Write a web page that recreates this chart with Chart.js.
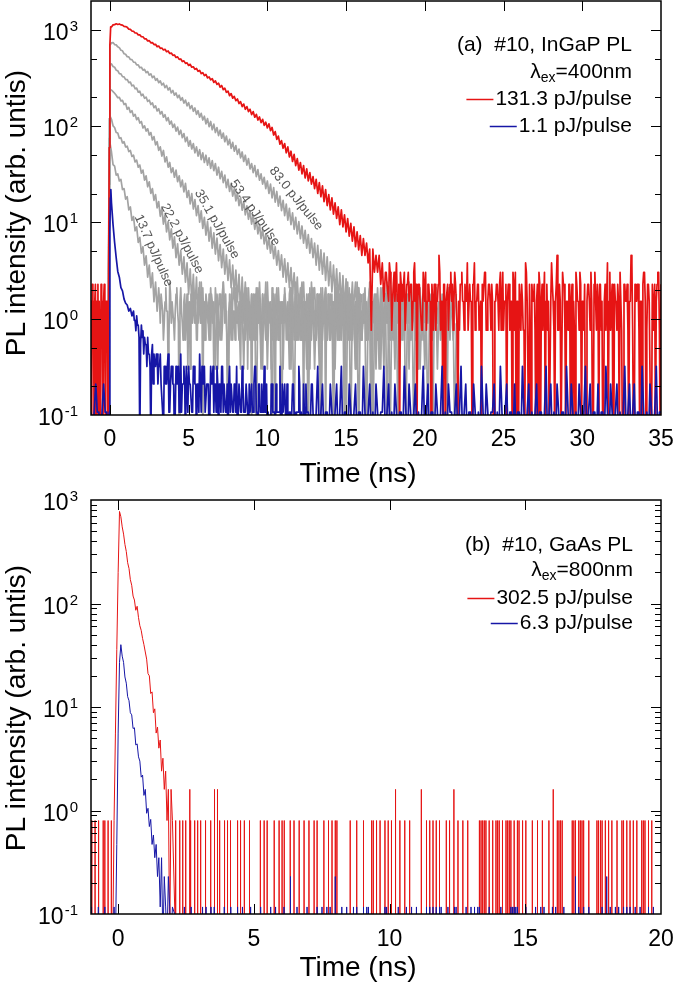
<!DOCTYPE html>
<html><head><meta charset="utf-8">
<script src="https://cdn.jsdelivr.net/npm/chart.js"></script>
<style>
html,body{margin:0;padding:0;background:#fff;}
body{width:675px;height:987px;position:relative;overflow:hidden;}
#wa{position:absolute;left:0;top:0;width:675px;height:490px;}
#wb{position:absolute;left:0;top:490px;width:675px;height:497px;}
canvas{display:block;}
</style></head><body>
<div id="wa"><canvas id="ca" width="675" height="490"></canvas></div>
<div id="wb"><canvas id="cb" width="675" height="497"></canvas></div>
<script>
// ===================== DATA =====================
// Panel (a) common time bins (ns)
const tA = [
0.1,0.2,0.3,0.4,0.5,0.6,0.7,0.8,0.9,1.0,
1.1,1.2,1.3,1.4,1.5,1.6,1.7,1.8,1.9,2.0,
2.1,2.2,2.3,2.4,2.5,2.6,2.7,2.8,2.9,3.0,
3.1,3.2,3.3,3.4,3.5,3.6,3.7,3.8,3.9,4.0,
4.1,4.2,4.3,4.4,4.5,4.6,4.7,4.8,4.9,5.0,
5.1,5.2,5.3,5.4,5.5,5.6,5.7,5.8,5.9,6.0,
6.1,6.2,6.3,6.4,6.5,6.6,6.7,6.8,6.9,7.0,
7.1,7.2,7.3,7.4,7.5,7.6,7.7,7.8,7.9,8.0,
8.1,8.2,8.3,8.4,8.5,8.6,8.7,8.8,8.9,9.0,
9.1,9.2,9.3,9.4,9.5,9.6,9.7,9.8,9.9,10.0,
10.1,10.2,10.3,10.4,10.5,10.6,10.7,10.8,10.9,11.0,
11.1,11.2,11.3,11.4,11.5,11.6,11.7,11.8,11.9,12.0,
12.1,12.2,12.3,12.4,12.5,12.6,12.7,12.8,12.9,13.0,
13.1,13.2,13.3,13.4,13.5,13.6,13.7,13.8,13.9,14.0,
14.1,14.2,14.3,14.4,14.5,14.6,14.7,14.8,14.9,15.0,
15.1,15.2,15.3,15.4,15.5,15.6,15.7,15.8,15.9,16.0,
16.1,16.2,16.3,16.4,16.5,16.6,16.7,16.8,16.9,17.0,
17.1,17.2,17.3,17.4,17.5,17.6,17.7,17.8,17.9,18.0,
18.1,18.2,18.3,18.4,18.5,18.6,18.7,18.8,18.9,19.0,
19.1,19.2,19.3,19.4,19.5,19.6,19.7,19.8,19.9,20.0,
20.1,20.2,20.3,20.4,20.5,20.6,20.7,20.8,20.9,21.0,
21.1,21.2,21.3,21.4,21.5,21.6,21.7,21.8,21.9,22.0,
22.1,22.2,22.3,22.4,22.5,22.6,22.7,22.8,22.9,23.0,
23.1,23.2,23.3,23.4,23.5,23.6,23.7,23.8,23.9,24.0,
24.1,24.2,24.3,24.4,24.5,24.6,24.7,24.8,24.9,25.0,
25.1,25.2,25.3,25.4,25.5,25.6,25.7,25.8,25.9,26.0,
26.1,26.2,26.3,26.4,26.5,26.6,26.7,26.8,26.9,27.0,
27.1,27.2,27.3,27.4,27.5,27.6,27.7,27.8,27.9,28.0,
28.1,28.2,28.3,28.4,28.5,28.6,28.7,28.8,28.9,29.0,
29.1,29.2,29.3,29.4,29.5,29.6,29.7,29.8,29.9,30.0,
30.1,30.2,30.3,30.4,30.5,30.6,30.7,30.8,30.9,31.0,
31.1,31.2,31.3,31.4,31.5,31.6,31.7,31.8,31.9,32.0,
32.1,32.2,32.3,32.4,32.5,32.6,32.7,32.8,32.9,33.0,
33.1,33.2,33.3,33.4,33.5,33.6,33.7,33.8,33.9,34.0,
34.1,34.2,34.3,34.4,34.5,34.6,34.7,34.8,34.9,35.0];

// (a) 131.3 pJ/pulse (red): before/at excitation, then on tA
const tRedPreA = [-1.2,-1.16,-1.12,-1.08,-1.04,-1.0,-0.96,-0.92,-0.88,-0.84,-0.8,-0.76,-0.72,-0.68,-0.64,-0.6,-0.56,-0.52,-0.48,-0.44,-0.4,-0.36,-0.32,-0.28,-0.24,-0.2,-0.16,-0.12,-0.08,-0.04,0,0.05];
const vRedPreA = [1.52,0.05,2.28,0.76,1.52,0.05,1.52,2.28,0.05,1.52,0.76,2.28,0.05,1.52,1.52,0.05,2.28,0.76,1.52,0.05,1.52,2.28,0.76,0.05,1.52,0.76,1.52,0.05,3.04,60,700,1080];
const vRedA = [
1075,1130,1135,1160,1140,1155,1130,1125,1090,1085,
1065,1020,1015,975,970,930,930,890,890,850,
850,810,810,770,775,735,740,705,710,670,
680,645,650,620,630,595,605,570,575,545,
550,518,525,495,500,470,478,450,455,428,
440,410,415,390,398,372,380,352,360,335,
345,318,325,303,312,285,296,272,280,255,
265,240,248,225,232,208,218,196,204,184,
192,172,180,160,170,150,160,142,150,132,
142,124,133,116,125,109,118,102,110,96,
106,90,97,81,88,73,79,65,71,59,
66,53,61,48,55,43,51,39,46,35,
42,32,39,29,36,27,33,25,30,22.5,
28,20,26,18.5,24,16.5,22,15,19.5,13.5,
18,12.2,16,11,14.5,9.5,13.5,9,12,8,
11,7.2,9.8,6.4,9,5.6,8,5.2,7.3,4.56,
6.8,4.56,6.1,3.8,5.3,0.76,5.3,3.04,4.56,3.04,
4.56,2.28,3.8,1.52,3.04,2.28,1.52,3.04,0.76,2.28,
1.52,3.8,1.52,0.05,2.28,1.52,3.04,0.76,2.28,1.52,
2.28,0.76,3.04,1.52,0.05,2.28,1.52,0.76,3.04,1.52,
0.76,2.28,1.52,0.05,1.52,2.28,0.76,1.52,4.56,0.76,
1.52,2.28,0.05,1.52,0.76,2.28,1.52,0.76,3.04,1.52,
0.05,0.76,2.28,1.52,0.76,1.52,3.8,0.76,1.52,0.05,
2.28,0.76,1.52,2.28,0.76,0.05,1.52,3.04,0.76,1.52,
2.28,0.76,1.52,0.05,1.52,2.28,0.76,3.04,1.52,0.76,
1.52,0.05,2.28,0.76,1.52,3.04,0.76,0.05,1.52,2.28,
0.76,1.52,0.76,3.8,1.52,0.05,0.76,2.28,1.52,0.76,
1.52,0.05,2.28,1.52,0.76,3.04,1.52,0.76,0.05,1.52,
2.28,0.76,1.52,4.56,0.76,1.52,0.05,2.28,0.76,1.52,
0.76,2.28,1.52,0.05,0.76,3.04,1.52,0.76,2.28,1.52,
0.76,0.05,1.52,2.28,0.76,1.52,0.05,3.04,0.76,1.52,
2.28,0.76,0.05,1.52,0.76,3.8,1.52,0.76,2.28,0.05,
1.52,0.76,1.52,3.04,0.76,0.05,2.28,1.52,0.76,1.52,
4.56,0.76,0.05,1.52,2.28,0.76,1.52,0.05,3.04,1.52,
0.76,2.28,1.52,0.05,0.76,2.28,1.52,3.04,0.76,2.28];
// (a) red background, intermediate bins
const tRedTailA2 = [
17.55,17.65,17.75,17.85,17.95,18.05,18.15,18.25,18.35,18.45,
18.55,18.65,18.75,18.85,18.95,19.05,19.15,19.25,19.35,19.45,
19.55,19.65,19.75,19.85,19.95,20.05,20.15,20.25,20.35,20.45,
20.55,20.65,20.75,20.85,20.95,21.05,21.15,21.25,21.35,21.45,
21.55,21.65,21.75,21.85,21.95,22.05,22.15,22.25,22.35,22.45,
22.55,22.65,22.75,22.85,22.95,23.05,23.15,23.25,23.35,23.45,
23.55,23.65,23.75,23.85,23.95,24.05,24.15,24.25,24.35,24.45,
24.55,24.65,24.75,24.85,24.95,25.05,25.15,25.25,25.35,25.45,
25.55,25.65,25.75,25.85,25.95,26.05,26.15,26.25,26.35,26.45,
26.55,26.65,26.75,26.85,26.95,27.05,27.15,27.25,27.35,27.45,
27.55,27.65,27.75,27.85,27.95,28.05,28.15,28.25,28.35,28.45,
28.55,28.65,28.75,28.85,28.95,29.05,29.15,29.25,29.35,29.45,
29.55,29.65,29.75,29.85,29.95,30.05,30.15,30.25,30.35,30.45,
30.55,30.65,30.75,30.85,30.95,31.05,31.15,31.25,31.35,31.45,
31.55,31.65,31.75,31.85,31.95,32.05,32.15,32.25,32.35,32.45,
32.55,32.65,32.75,32.85,32.95,33.05,33.15,33.25,33.35,33.45,
33.55,33.65,33.75,33.85,33.95,34.05,34.15,34.25,34.35,34.45,
34.55,34.65,34.75,34.85,34.95];
const vRedTailA2 = [
3.04,2.28,3.8,2.28,1.52,3.04,2.28,1.52,2.28,3.04,
1.52,2.28,0.76,2.28,3.04,1.52,2.28,1.52,3.8,2.28,
1.52,2.28,1.52,0.76,2.28,3.04,1.52,2.28,1.52,2.28,
0.76,2.28,1.52,2.28,3.04,1.52,0.05,2.28,1.52,2.28,
1.52,3.04,2.28,1.52,2.28,0.76,1.52,2.28,3.04,1.52,
2.28,1.52,0.76,2.28,1.52,2.28,3.8,1.52,2.28,0.76,
1.52,2.28,1.52,3.04,0.76,2.28,1.52,2.28,0.05,1.52,
2.28,1.52,2.28,0.76,3.04,1.52,2.28,1.52,2.28,1.52,
0.05,2.28,3.04,1.52,0.05,1.52,2.28,0.76,0.05,3.04,
1.52,2.28,0.05,1.52,2.28,0.05,2.28,3.04,0.05,2.28,
1.52,0.05,2.28,1.52,0.05,3.8,1.52,0.05,2.28,0.76,
2.28,0.05,3.04,2.28,0.05,1.52,2.28,0.05,2.28,1.52,
0.05,2.28,1.52,3.04,0.05,1.52,2.28,0.05,2.28,1.52,
3.04,0.05,2.28,1.52,2.28,0.05,2.28,1.52,0.05,2.28,
1.52,0.05,3.04,1.52,0.05,2.28,1.52,2.28,0.05,3.04,
0.05,2.28,1.52,2.28,0.05,1.52,3.8,0.05,2.28,1.52,
2.28,0.05,1.52,2.28,3.04,0.05,2.28,1.52,0.05,2.28,
1.52,0.05,2.28,3.04,0.05];

// (a) 1.1 pJ/pulse (blue)
const tBluePreA = [-1.2,-1.1,-1.0,-0.9,-0.8,-0.7,-0.6,-0.5,-0.4,-0.3,-0.2,-0.1,-0.04,0,0.03,0.06];
const vBluePreA = [0.107,0.05,0.107,0.21,0.107,0.107,0.05,0.107,0.21,0.107,0.107,0.05,0.107,8,18,22];
const vBlueA = [
16,9.5,6.2,4.3,3.1,2.7,2.1,1.95,1.6,1.45,
1.39,1.2,1.28,1.07,1.2,0.96,1.07,0.86,0.05,0.86,
0.75,0.64,0.54,0.64,0.43,0.05,0.54,0.43,0.32,0.43,
0.32,0.43,0.21,0.05,0.32,0.21,0.43,0.107,0.32,0.21,
0.05,0.32,0.21,0.107,0.43,0.21,0.32,0.05,0.21,0.32,
0.21,0.107,0.32,0.21,0.05,0.21,0.43,0.107,0.21,0.32,
0.107,0.21,0.05,0.32,0.21,0.107,0.21,0.32,0.05,0.21,
0.32,0.107,0.21,0.107,0.05,0.32,0.21,0.107,0.21,0.107,
0.05,0.21,0.107,0.32,0.107,0.107,0.21,0.05,0.107,0.21,
0.107,0.32,0.107,0.05,0.21,0.107,0.107,0.32,0.107,0.05,
0.107,0.05,0.21,0.107,0.05,0.107,0.107,0.32,0.05,0.107,
0.21,0.05,0.107,0.107,0.05,0.21,0.107,0.05,0.107,0.32,
0.05,0.107,0.21,0.05,0.107,0.107,0.05,0.21,0.107,0.05,
0.107,0.32,0.05,0.107,0.21,0.05,0.107,0.107,0.05,0.21,
0.107,0.05,0.107,0.21,0.05,0.107,0.32,0.05,0.107,0.107,
0.05,0.21,0.107,0.05,0.107,0.21,0.05,0.107,0.107,0.05,
0.32,0.107,0.05,0.107,0.21,0.05,0.107,0.05,0.21,0.107,
0.05,0.107,0.107,0.32,0.05,0.107,0.21,0.05,0.107,0.05,
0.21,0.107,0.05,0.107,0.107,0.05,0.32,0.107,0.05,0.21,
0.107,0.05,0.107,0.21,0.05,0.107,0.05,0.107,0.32,0.05,
0.107,0.21,0.05,0.107,0.107,0.05,0.21,0.107,0.05,0.107,
0.32,0.05,0.107,0.05,0.21,0.107,0.107,0.05,0.107,0.21,
0.05,0.107,0.32,0.05,0.107,0.21,0.05,0.107,0.107,0.05,
0.21,0.107,0.05,0.107,0.05,0.32,0.107,0.05,0.21,0.107,
0.05,0.107,0.107,0.21,0.05,0.107,0.05,0.32,0.107,0.05,
0.107,0.21,0.05,0.107,0.107,0.05,0.21,0.05,0.107,0.107,
0.05,0.32,0.107,0.05,0.107,0.21,0.05,0.107,0.05,0.107,
0.21,0.05,0.107,0.107,0.05,0.107,0.32,0.05,0.107,0.21,
0.05,0.107,0.05,0.21,0.107,0.05,0.107,0.107,0.05,0.32,
0.107,0.05,0.21,0.107,0.05,0.107,0.05,0.21,0.107,0.05,
0.107,0.32,0.05,0.107,0.21,0.05,0.107,0.107,0.05,0.21,
0.05,0.107,0.107,0.05,0.32,0.107,0.05,0.21,0.107,0.05,
0.107,0.21,0.05,0.107,0.05,0.107,0.32,0.05,0.107,0.21,
0.05,0.107,0.21,0.05,0.107,0.107,0.05,0.32,0.107,0.05,
0.107,0.05,0.21,0.107,0.05,0.107,0.32,0.05,0.107,0.107];
// (a) blue background, intermediate bins
const tBlueA2 = [
1.55,1.65,1.75,1.85,1.95,2.05,2.15,2.25,2.35,2.45,
2.55,2.65,2.75,2.85,2.95,3.05,3.15,3.25,3.35,3.45,
3.55,3.65,3.75,3.85,3.95,4.05,4.15,4.25,4.35,4.45,
4.55,4.65,4.75,4.85,4.95,5.05,5.15,5.25,5.35,5.45,
5.55,5.65,5.75,5.85,5.95,6.05,6.15,6.25,6.35,6.45,
6.55,6.65,6.75,6.85,6.95,7.05,7.15,7.25,7.35,7.45,
7.55,7.65,7.75,7.85,7.95,8.05,8.15,8.25,8.35,8.45,
8.55,8.65,8.75,8.85,8.95,9.05,9.15,9.25,9.35,9.45,
9.55,9.65,9.75,9.85,9.95,10.05,10.15,10.25,10.35,10.45,
10.55,10.65,10.75,10.85,10.95,11.05,11.15,11.25,11.35,11.45,
11.55,11.65,11.75,11.85,11.95,12.05,12.15,12.25,12.35,12.45,
12.55,12.65,12.75,12.85,12.95];
const vBlueA2 = [
0.96,0.75,0.86,0.64,0.54,0.64,0.43,0.54,0.32,0.43,
0.32,0.43,0.21,0.32,0.43,0.21,0.32,0.21,0.107,0.32,
0.21,0.32,0.107,0.21,0.32,0.21,0.107,0.21,0.32,0.21,
0.107,0.21,0.21,0.32,0.107,0.21,0.21,0.107,0.32,0.21,
0.21,0.107,0.21,0.32,0.21,0.107,0.21,0.21,0.107,0.21,
0.32,0.21,0.107,0.21,0.21,0.107,0.32,0.21,0.107,0.21,
0.21,0.107,0.21,0.107,0.21,0.32,0.107,0.21,0.107,0.21,
0.107,0.21,0.107,0.21,0.107,0.107,0.21,0.32,0.107,0.21,
0.107,0.21,0.107,0.107,0.21,0.107,0.05,0.21,0.107,0.107,
0.21,0.107,0.107,0.05,0.21,0.107,0.107,0.21,0.05,0.107,
0.107,0.21,0.05,0.107,0.107,0.21,0.107,0.05,0.107,0.21,
0.107,0.05,0.107,0.21,0.107];

// (a) intermediate excitations (gray); rising edge then on tA
const tGrayPreA = [-0.1,-0.04,0];
const vG83Pre = [1.2,120,690];
const vG53Pre = [0.9,75,430];
const vG35Pre = [0.6,45,240];
const vG22Pre = [0.9,25,128];
const vG13Pre = [0.6,14,68];
const vG83 = [
735,740,705,700,668,655,615,608,566,560,
528,525,494,492,463,462,434,434,405,410,
382,390,360,370,340,350,320,332,300,312,
283,296,268,280,252,265,238,251,222,235,
210,222,198,210,186,198,174,187,163,176,
152,164,143,155,133,145,124,136,116,127,
106,120,99,112,92,105,86,97,80,91,
75,85,69,79,64,73,59,68,55,63,
51,58,47,54,43,50,39.5,46,36,41,
33,39,30,35.5,27.5,32,25,29.5,22.5,27,
20,25,18,23,16.3,21,14.8,18.8,13.3,17,
11.8,15.5,10.6,14,9.5,12.6,8.5,11.3,7.6,10.2,
6.8,9.2,6.1,8.3,5.4,7.5,4.8,6.8,4.3,6.1,
3.6,5.8,3.2,5.2,2.9,4.8,2.5,4.4,2.2,3.9,
1.9,3.6,1.8,3.3,1.5,3.0,1.4,2.8,1.2,2.6,
0.9,2.1,0.6,1.8,1.2,0.3,2.4,0.9,1.5,0.6,
1.8,0.9,0.05,1.5,2.1,0.6,1.2,1.8,0.3,1.5,
0.9,2.1,1.2,0.6,1.8,0.05,1.2,2.4,0.6,1.5,
0.3,1.8,0.9,1.5,0.6,2.1,1.2,0.05,1.8,0.9,
1.5,0.6,2.4,0.9,1.2,0.3,1.8,1.2,0.6,2.1,
0.9,0.05,1.5,1.8,0.6,1.2,2.1,0.3,1.5,0.9,
1.8,0.6,1.2,0.05,2.1,0.9,1.5,0.6,1.2,1.8];
const vG53 = [
445,418,410,382,377,352,350,327,326,305,
306,284,287,263,267,245,249,226,231,208,
215,195,201,181,187,168,175,156,163,144,
152,134,142,124,132,114,123,105,113,97,
105,89,98,82,91,76,84,69,77,62,
71,58,66,53,61,49,57,45,53,42,
50,39.5,47,36.5,44,34.5,41,31,37.5,28.5,
34,26,31,23,28,21,25.5,18.8,22.5,16.8,
20.5,15,18.3,13.4,16.6,12,14.9,10.8,13.2,9.6,
12,8.5,10.8,7.6,9.6,6.8,8.6,6,7.6,5.3,
7,4.8,6.3,4.2,5.6,3.6,5.1,3.2,4.6,2.7,
4.2,2.4,3.8,2.1,3.4,1.8,3.0,1.5,2.7,1.2,
2.1,0.9,1.5,0.6,1.8,1.2,0.3,2.4,0.9,1.2,
0.6,1.8,1.5,0.05,2.1,0.9,1.2,0.6,1.8,0.9,
1.5,0.3,2.1,1.2,0.6,1.8,0.9,1.5,0.05,1.2,
2.4,0.6,1.2,1.8,0.9,0.3,1.5,2.1,0.6,1.2,
0.9,1.8,0.6,1.2,2.1,0.05,1.5,0.9,1.8,0.6,
1.2,0.3,1.8,0.9,1.5,2.4,0.6,1.2,0.9,1.8,
0.6,1.5,0.05,2.1,1.2,0.6,1.8,0.9,1.5,0.3,
1.8,0.9,1.2,0.6,2.1,1.5,0.3,1.2,1.8,0.9];
const vG35 = [
238,229,220,210,198,199,183,186,168,172,
150,157,139,145,127,133,117,123,108,112,
96,101,89,94,81,86,72,78,64,69,
56,61,49,56,42.5,48,37.5,42,33,37,
29.5,35,26.5,30.5,23.5,27.5,20.8,25.5,18.2,21.5,
15.6,20,13.8,17.3,11.8,15,10.1,13.2,8.7,11.3,
7.4,10.2,6.4,8.9,5.4,7.8,4.7,6.9,4.0,5.9,
3.4,5.3,2.9,4.6,2.5,4.1,2.1,3.6,1.8,3.2,
1.5,2.9,1.2,2.7,1.2,2.4,0.9,2.1,0.9,1.8,
1.2,0.6,2.1,0.9,1.5,0.3,1.8,1.2,0.6,2.4,
0.9,1.5,0.05,1.8,1.2,0.6,2.1,0.9,1.5,0.3,
1.8,1.2,0.6,1.5,2.1,0.9,0.05,1.8,1.2,0.6,
1.5,2.4,0.9,1.2,0.3,1.8,0.6,1.5,2.1,0.9,
0.6,1.2,1.8,0.05,1.5,0.9,2.1,0.6,1.2,1.8,
0.9,1.5,0.3,2.1,1.2,0.6,1.8,0.9,1.5,0.05,
1.8,0.6,1.2,2.4,0.9,1.5,0.3,1.2,1.8,0.6,
1.2,2.1,0.6,0.9,1.8,0.05,1.5,1.2,0.6,2.1,
0.9,1.5,1.2,0.3,1.8,0.9,2.1,0.6,1.2,1.5];
const vG22 = [
118,101,97,86,85,75,76,67,69,61,
62,54.5,56,48.5,50,42.5,44.5,37.5,39.5,32.5,
35,27.5,30.5,23.5,26.5,20,22.5,17,19.5,14.2,
16.5,11.6,14,9.6,12,8,10.2,6.6,8.6,5.4,
7.1,4.3,6,3.6,5.1,2.9,4.4,2.4,3.8,1.8,
3.3,1.5,2.9,1.2,2.7,0.9,2.4,0.9,2.1,0.6,
1.8,1.2,0.6,2.1,0.9,1.5,0.3,1.8,1.2,0.6,
1.5,2.4,0.9,1.2,0.05,1.8,0.6,1.5,2.1,0.9,
1.2,0.6,1.8,1.5,0.3,2.1,0.9,1.2,0.6,1.8,
0.9,1.5,0.05,2.1,1.2,0.6,1.8,0.9,2.4,0.3,
1.5,1.2,0.6,1.8,0.9,2.1,0.6,1.5,0.05,1.2,
1.8,0.9,1.5,0.3,1.2,2.1,0.6,1.8,0.9,1.2,
0.6,1.5,2.4,0.9,1.2,0.05,1.8,0.6,1.5,2.1,
0.9,1.2,0.3,1.8,0.6,1.5,2.1,0.9,1.2,0.6,
1.8,0.05,1.5,0.9,2.1,1.2,0.6,1.8,0.3,1.5,
1.2,0.9,1.8,0.6,1.5,2.4,0.9,0.05,1.2,1.8];
const vG13 = [
54,40,38.5,31,32,27,28,22,22.5,17.5,
18.5,13.5,14.5,10.5,11.5,8.2,9,6.2,7,4.8,
5.6,3.6,4.5,2.7,3.6,2.1,3,1.5,2.4,1.2,
2.1,0.9,1.8,0.6,1.5,1.2,0.3,2.4,0.9,1.5,
0.6,1.8,1.2,0.05,2.1,0.9,1.5,0.6,1.8,1.2,
0.3,1.5,2.1,0.9,0.6,1.8,1.2,2.4,0.05,1.5,
0.9,1.2,1.8,0.6,1.5,0.3,2.1,0.9,1.2,1.8,
0.6,2.4,1.2,0.9,0.05,1.5,1.8,0.6,1.2,2.1,
0.9,1.5,0.3,1.8,1.2,0.6,2.1,1.5,0.9,0.05,
1.8,1.2,0.6,1.5,2.4,0.9,0.3,1.2,1.8,0.6,
1.5,0.9,2.1,1.2,0.05,1.8,0.6,1.5,0.9,1.2,
2.1,0.6,1.2,1.8,0.3,1.5,0.9,2.4,0.6,1.2,
0.9,1.8,0.05,1.5,1.2,0.6,2.1,0.9,1.5,0.3,
1.2,1.8,0.6,2.1,0.9,1.5,0.05,1.2,1.8,0.6,
1.5,0.3,2.4,0.9,1.2,0.6,1.8,1.5,0.9,2.1,
0.6,1.2,0.05,1.8,0.9,1.5,0.3,2.1,1.2,0.6,
1.8,0.9,1.5,0.6,2.4,1.2,0.05,0.9,1.8,1.5,
0.3,1.2,2.1,0.6,1.5,0.9,1.8,0.05,1.2,0.6,
2.1,0.9,1.5,0.3,1.2,1.8,0.6,1.5,0.9,2.4,
0.6,1.2,0.05,1.8,0.9,1.5,2.1,0.6,1.2,0.3,
1.5,0.9,1.8,0.6,0.05,1.2,2.1,0.9,1.5,0.6,
1.2,1.8,0.3,0.9,1.5,0.6,2.1,1.2,0.05,0.9];
// 13.7 pJ/pulse background, intermediate bins
const tG13b = [
3.15,3.25,3.35,3.45,3.55,3.65,3.75,3.85,3.95,4.05,
4.15,4.25,4.35,4.45,4.55,4.65,4.75,4.85,4.95,5.05,
5.15,5.25,5.35,5.45,5.55,5.65,5.75,5.85,5.95,6.05,
6.15,6.25,6.35,6.45,6.55,6.65,6.75,6.85,6.95,7.05,
7.15,7.25,7.35,7.45,7.55,7.65,7.75,7.85,7.95,8.05,
8.15,8.25,8.35,8.45,8.55,8.65,8.75,8.85,8.95,9.05,
9.15,9.25,9.35,9.45,9.55,9.65,9.75,9.85,9.95,10.05,
10.15,10.25,10.35,10.45,10.55,10.65,10.75,10.85,10.95,11.05,
11.15,11.25,11.35,11.45,11.55,11.65,11.75,11.85,11.95,12.05,
12.15,12.25,12.35,12.45,12.55,12.65,12.75,12.85,12.95,13.05,
13.15,13.25,13.35,13.45,13.55,13.65,13.75,13.85,13.95,14.05,
14.15,14.25,14.35,14.45,14.55,14.65,14.75,14.85,14.95];
const vG13b = [
1.5,1.8,1.2,0.9,2.1,1.2,0.6,1.8,1.5,0.9,
1.2,2.1,0.9,1.5,1.2,0.6,1.8,1.2,0.3,1.5,
1.8,0.9,1.2,1.5,0.6,2.1,0.9,1.5,1.2,0.6,
1.5,0.9,0.6,1.8,1.2,0.9,1.5,0.3,1.8,1.2,
0.9,1.5,1.8,0.6,1.2,0.9,2.1,1.2,0.6,1.5,
1.2,0.6,1.5,0.9,1.8,1.2,0.3,1.5,1.2,0.9,
0.6,1.8,1.2,0.9,1.5,0.6,1.2,1.8,0.9,1.5,
1.2,0.3,1.5,0.9,1.8,1.2,0.6,1.2,1.5,0.9,
1.5,1.2,0.6,2.1,0.9,1.2,1.5,0.6,1.8,1.2,
0.6,1.2,1.5,0.9,0.3,1.8,1.2,0.9,1.5,0.6,
1.8,0.9,1.2,0.6,1.5,1.2,0.9,1.8,0.6,1.2,
1.5,0.9,1.2,0.6,1.8,1.2,0.9,1.5,0.6];

// gray curve annotations: text, anchor time (ns), anchor intensity, angle (deg)
const grayLabels = ['13.7 pJ/pulse','22.2 pJ/pulse','35.1 pJ/pulse','53.4 pJ/pulse','83.0 pJ/pulse'];
const grayLabelT = [2.77,4.58,6.80,9.21,11.82];
const grayLabelV = [5.1,6.8,9.6,12.6,17.7];
const grayLabelAngle = [66,62,60,55,51];

// Panel (b) time bins around the pulse (ns)
const tB = [-0.2,-0.15,-0.1,-0.05,0,0.05,0.1,0.15,0.2,0.25,0.3,0.35,0.4,0.45,0.5,0.55,0.6,0.65,0.7,0.75,0.8,0.85,0.9,0.95,1.0,1.05,1.1,1.15,1.2,1.25,1.3,1.35,1.4,1.45,1.5,1.55,1.6,1.65,1.7,1.75,1.8,1.85,1.9,1.95,2.0];
// (b) 302.5 pJ/pulse (red)
const vRedB = [0.05,0.8,5.6,36,200,
775,690,550,468,372,318,248,218,170,150,
118,108,86,94,73,61,55,46,40,34,
29,21,20,13.5,14,8.8,9.6,5.6,6.4,4.0,
4.8,2.4,3.2,1.6,2.4,0.8,1.6,0.05,1.6,0.8];
// isolated photon counts in the red background (time, intensity)
const tRedSpikeB = [-0.97,-0.85,-0.72,-0.55,-0.49,-0.37,-0.25,
2.12,2.27,2.38,2.49,2.64,2.67,2.82,2.93,3.04,3.22,3.41,3.55,3.66,3.74,3.92,4.03,4.14,4.40,4.51,4.65,4.84,5.24,5.38,5.49,5.75,5.93,6.04,6.12,6.34,6.48,6.67,6.85,7.03,7.22,7.33,7.58,
7.75,7.88,8.0,8.06,8.55,8.79,9.04,9.34,9.40,9.52,9.65,9.83,9.95,10.07,10.22,10.38,10.56,10.74,11.17,11.36,11.48,11.6,11.72,11.84,12.09,12.21,12.37,12.52,12.7,12.88,
13.31,13.37,13.43,13.49,13.55,13.67,13.8,13.92,13.98,14.04,14.16,14.29,14.35,14.41,14.47,14.59,14.71,14.77,14.9,15.02,15.26,15.45,15.63,15.87,16.03,16.18,16.24,16.3,16.36,
16.73,16.79,16.85,16.97,17.03,17.09,17.15,17.34,17.64,17.7,17.77,17.83,17.95,18.07,18.19,18.38,18.56,18.62,18.74,18.86,18.98,19.11,19.29,19.35,19.41,19.54,19.66];
const vRedSpikeB = [0.8,0.8,0.8,0.8,0.8,0.8,0.8,
0.8,0.8,0.8,0.8,1.6,0.8,0.8,0.8,0.8,0.8,0.8,1.6,1.6,0.8,0.8,0.8,0.8,0.8,0.8,0.8,0.8,0.8,0.8,0.8,0.8,0.8,0.8,0.8,0.8,0.8,0.8,0.8,0.8,0.8,0.8,0.8,
0.8,0.8,0.8,0.8,0.8,0.8,0.8,0.8,0.8,0.8,0.8,0.8,0.8,0.8,1.6,0.8,0.8,0.8,1.6,0.8,0.8,0.8,0.8,0.8,0.8,0.8,1.6,0.8,0.8,0.8,
0.8,0.8,0.8,0.8,0.8,0.8,0.8,0.8,0.8,0.8,0.8,0.8,0.8,0.8,0.8,0.8,0.8,0.8,0.8,0.8,0.8,0.8,0.8,0.8,1.6,0.8,0.8,0.8,0.8,
0.8,0.8,0.8,0.8,0.8,0.8,0.8,0.8,0.8,0.8,0.8,0.8,0.8,0.8,0.8,0.8,0.8,0.8,0.8,0.8,0.8,0.8,0.8,0.8,0.8,0.8,0.8];
// (b) 6.3 pJ/pulse (blue)
const vBlueB = [0.05,0.117,0.05,0.47,5.6,
27,40,31,27,19.5,17,12.6,11.5,8.8,8.4,
6.2,6.3,4.3,4.4,3.3,3.0,2.1,2.2,1.4,1.6,
0.94,1.05,0.7,0.82,0.47,0.58,0.35,0.47,0.23,0.35,
0.117,0.35,0.05,0.23,0.117,0.05,0.23,0.117,0.05,0.117];
const tBlueSpikeB = [-0.98,-0.73,-0.49,
2.44,2.69,3.11,3.24,3.42,3.54,3.91,4.15,4.40,4.58,4.88,5.25,5.62,5.80,6.11,6.35,6.59,6.96,7.33,7.51,7.69,7.81,8.0,8.24,8.42,8.67,8.79,9.04,9.16,9.22,9.83,9.89,
10.32,10.62,10.81,10.99,11.36,11.48,11.6,11.72,11.84,11.9,12.15,12.39,12.45,12.82,13.0,13.13,13.25,13.31,13.67,14.1,14.47,14.53,14.59,14.65,14.71,15.02,15.38,15.57,15.69,
16.0,16.12,16.42,16.85,16.97,17.15,17.34,17.83,18.0,18.13,18.32,18.44,18.62,18.74,18.86,19.05,19.23,19.54,19.72];
const vBlueSpikeB = [0.117,0.117,0.117,
0.117,0.117,0.117,0.117,0.117,0.117,0.117,0.117,0.117,0.117,0.117,0.117,0.117,0.117,0.117,0.23,0.117,0.117,0.117,0.117,0.117,0.117,0.23,0.117,0.117,0.117,0.117,0.117,0.117,0.117,0.117,0.117,
0.117,0.117,0.117,0.117,0.117,0.117,0.117,0.117,0.117,0.117,0.117,0.117,0.117,0.117,0.117,0.117,0.117,0.117,0.117,0.117,0.117,0.117,0.117,0.117,0.117,0.117,0.117,0.117,0.117,
0.117,0.117,0.117,0.23,0.117,0.117,0.117,0.117,0.23,0.117,0.117,0.117,0.117,0.117,0.117,0.117,0.117,0.117,0.117];
const ZERO = 0.05; // zero-count level (below the axis floor)

// Axis ticks
const xTicksA = [0,5,10,15,20,25,30,35];
const xTicksB = [0,5,10,15,20];
const yMajors = [0.1,1,10,100,1000];
const yExps = ['-1','0','1','2','3'];
const yMinorsA = [0.2,0.5,2,5,20,50,200,500];
const yMinorsB = [0.2,0.3,0.4,0.5,0.6,0.7,0.8,0.9,2,3,4,5,6,7,8,9,20,30,40,50,60,70,80,90,200,300,400,500,600,700,800,900];

// ===================== DRAWING =====================
const FONT = '"Liberation Sans", Arial, Helvetica, sans-serif';
const RED = '#e61414', BLUE = '#1616a6', GRAY = '#a3a3a3';

function pts(ts, vs) {
  const n = Math.min(ts.length, vs.length), out = [];
  for (let i = 0; i < n; i++) out.push({x: ts[i], y: vs[i]});
  return out;
}
function byX(list) { return list.sort((p, q) => p.x - q.x); }
function spikes(ts, vs) {
  const n = Math.min(ts.length, vs.length), out = [];
  for (let i = 0; i < n; i++) out.push({x: ts[i], y: ZERO}, {x: ts[i], y: vs[i]}, {x: ts[i], y: ZERO});
  return out;
}
function ds(data, color, order, width) {
  return {data, borderColor: color, borderWidth: width, pointRadius: 0, fill: false, order, tension: 0,
          borderJoinStyle: 'round', clip: 0};
}

function makePanelPlugin(P) {
  return {
    id: 'panel_' + P.canvas,
    afterDraw(chart) {
      const {ctx, chartArea: a, scales: {x, y}} = chart;
      ctx.save();
      ctx.strokeStyle = '#000'; ctx.lineWidth = 1;
      ctx.beginPath();
      for (const v of P.xTicks) {
        const px = Math.round(x.getPixelForValue(v)) + 0.5;
        if (px <= a.left + 2 || px >= a.right - 2) continue;
        ctx.moveTo(px, a.top); ctx.lineTo(px, a.top + 10);
        ctx.moveTo(px, a.bottom); ctx.lineTo(px, a.bottom - 10);
      }
      for (const v of yMajors) {
        const py = Math.round(y.getPixelForValue(v)) + 0.5;
        if (py <= a.top + 2 || py >= a.bottom - 2) continue;
        ctx.moveTo(a.left, py); ctx.lineTo(a.left + 10, py);
        ctx.moveTo(a.right, py); ctx.lineTo(a.right - 10, py);
      }
      for (const v of P.yMinors) {
        const py = Math.round(y.getPixelForValue(v)) + 0.5;
        if (py <= a.top + 2 || py >= a.bottom - 2) continue;
        ctx.moveTo(a.left, py); ctx.lineTo(a.left + 6, py);
        ctx.moveTo(a.right, py); ctx.lineTo(a.right - 6, py);
      }
      ctx.stroke();
      ctx.lineWidth = 1.5;
      ctx.strokeRect(a.left, a.top, a.right - a.left, a.bottom - a.top);

      ctx.fillStyle = '#000';
      // x tick labels
      ctx.font = '23px ' + FONT; ctx.textAlign = 'center'; ctx.textBaseline = 'middle';
      for (const v of P.xTicks) ctx.fillText(String(v), x.getPixelForValue(v), P.tickLabelY);
      // y tick labels 10^n
      for (let i = 0; i < yMajors.length; i++) {
        const py = y.getPixelForValue(yMajors[i]);
        const xr = 78;
        ctx.font = '15px ' + FONT; const we = ctx.measureText(yExps[i]).width;
        ctx.font = '23px ' + FONT; const w10 = ctx.measureText('10').width;
        ctx.textAlign = 'left'; ctx.textBaseline = 'alphabetic';
        ctx.fillText('10', xr - we - w10 - 1, py + 10);
        ctx.font = '15px ' + FONT;
        ctx.fillText(yExps[i], xr - we, py + 1);
      }
      // axis titles
      ctx.font = '28px ' + FONT; ctx.textAlign = 'center'; ctx.textBaseline = 'middle';
      ctx.fillText('Time (ns)', P.titleX, P.titleY);
      ctx.save(); ctx.translate(P.yTitleX, P.yTitleY); ctx.rotate(-Math.PI / 2);
      ctx.fillText('PL intensity (arb. untis)', 0, 0); ctx.restore();

      // legend block
      const L = P.legend, xr = L.right;
      ctx.font = '21px ' + FONT; ctx.textAlign = 'right'; ctx.textBaseline = 'middle';
      ctx.fillText(L.head, xr, L.y[0]);
      const w1 = ctx.measureText(L.lam).width;
      ctx.fillText(L.lam, xr, L.y[1]);
      ctx.font = '14px ' + FONT; const w2 = ctx.measureText('ex').width;
      ctx.fillText('ex', xr - w1, L.y[1] + 6);
      ctx.font = '21px ' + FONT;
      ctx.fillText('\u03bb', xr - w1 - w2, L.y[1]);
      for (let k = 0; k < L.items.length; k++) {
        const it = L.items[k], yy = L.y[2 + k];
        ctx.font = '21px ' + FONT; ctx.fillStyle = '#000';
        ctx.fillText(it.text, xr, yy);
        const w = ctx.measureText(it.text).width;
        ctx.strokeStyle = it.color; ctx.lineWidth = 1.5;
        ctx.beginPath(); ctx.moveTo(xr - w - 29, Math.round(yy) + 0.5); ctx.lineTo(xr - w - 2, Math.round(yy) + 0.5); ctx.stroke();
      }
      // rotated gray annotations
      if (P.notes) {
        ctx.fillStyle = '#555'; ctx.font = '13px ' + FONT; ctx.textAlign = 'center'; ctx.textBaseline = 'middle';
        for (let k = 0; k < grayLabels.length; k++) {
          ctx.save();
          ctx.translate(x.getPixelForValue(grayLabelT[k]), y.getPixelForValue(grayLabelV[k]));
          ctx.rotate(grayLabelAngle[k] * Math.PI / 180);
          ctx.fillText(grayLabels[k], 0, 0);
          ctx.restore();
        }
      }
      ctx.restore();
    }
  };
}

function makeChart(P, datasets) {
  return new Chart(document.getElementById(P.canvas), {
    type: 'line',
    data: {datasets},
    options: {
      responsive: false, animation: false, events: [],
      layout: {padding: P.pad},
      scales: {
        x: {type: 'linear', min: P.xMin, max: P.xMax, display: false},
        y: {type: 'logarithmic', min: 0.1, max: P.yMax, display: false}
      },
      plugins: {legend: {display: false}, tooltip: {enabled: false}}
    },
    plugins: [makePanelPlugin(P)]
  });
}

const panelA = {
  canvas: 'ca', xMin: -1.2, xMax: 35, yMax: 2000,
  pad: {left: 91, right: 14, top: 1, bottom: 75},
  xTicks: xTicksA, yMinors: yMinorsA,
  tickLabelY: 440, titleX: 358, titleY: 474, yTitleX: 17, yTitleY: 213,
  legend: {right: 632, y: [45, 72, 99, 126], head: '(a)  #10, InGaP PL', lam: '=400nm',
           items: [{text: '131.3 pJ/pulse', color: RED}, {text: '1.1 pJ/pulse', color: BLUE}]},
  notes: true
};
const panelB = {
  canvas: 'cb', xMin: -1, xMax: 20, yMax: 1000,
  pad: {left: 91, right: 14, top: 10, bottom: 73},
  xTicks: xTicksB, yMinors: yMinorsB,
  tickLabelY: 450, titleX: 358, titleY: 478, yTitleX: 17, yTitleY: 218,
  legend: {right: 633, y: [55, 80, 108, 133], head: '(b)  #10, GaAs PL', lam: '=800nm',
           items: [{text: '302.5 pJ/pulse', color: RED}, {text: '6.3 pJ/pulse', color: BLUE}]},
  notes: false
};

const WA = 1.7;
makeChart(panelA, [
  ds(byX(pts(tBluePreA, vBluePreA).concat(pts(tA, vBlueA), pts(tBlueA2, vBlueA2))), BLUE, 0, WA),
  ds(byX(pts(tRedPreA, vRedPreA).concat(pts(tA, vRedA), pts(tRedTailA2, vRedTailA2))), RED, 1, WA),
  ds(pts(tGrayPreA, vG83Pre).concat(pts(tA, vG83)), GRAY, 2, WA),
  ds(pts(tGrayPreA, vG53Pre).concat(pts(tA, vG53)), GRAY, 3, WA),
  ds(pts(tGrayPreA, vG35Pre).concat(pts(tA, vG35)), GRAY, 4, WA),
  ds(pts(tGrayPreA, vG22Pre).concat(pts(tA, vG22)), GRAY, 5, WA),
  ds(byX(pts(tGrayPreA, vG13Pre).concat(pts(tA, vG13), pts(tG13b, vG13b))), GRAY, 6, WA)
]);

const redSpk = spikes(tRedSpikeB, vRedSpikeB);
const blueSpk = spikes(tBlueSpikeB, vBlueSpikeB);
makeChart(panelB, [
  ds(blueSpk.slice(0, 9).concat(pts(tB, vBlueB), blueSpk.slice(9)), BLUE, 0, 1),
  ds(redSpk.slice(0, 21).concat(pts(tB, vRedB), redSpk.slice(21)), RED, 1, 1)
]);
</script></body></html>
